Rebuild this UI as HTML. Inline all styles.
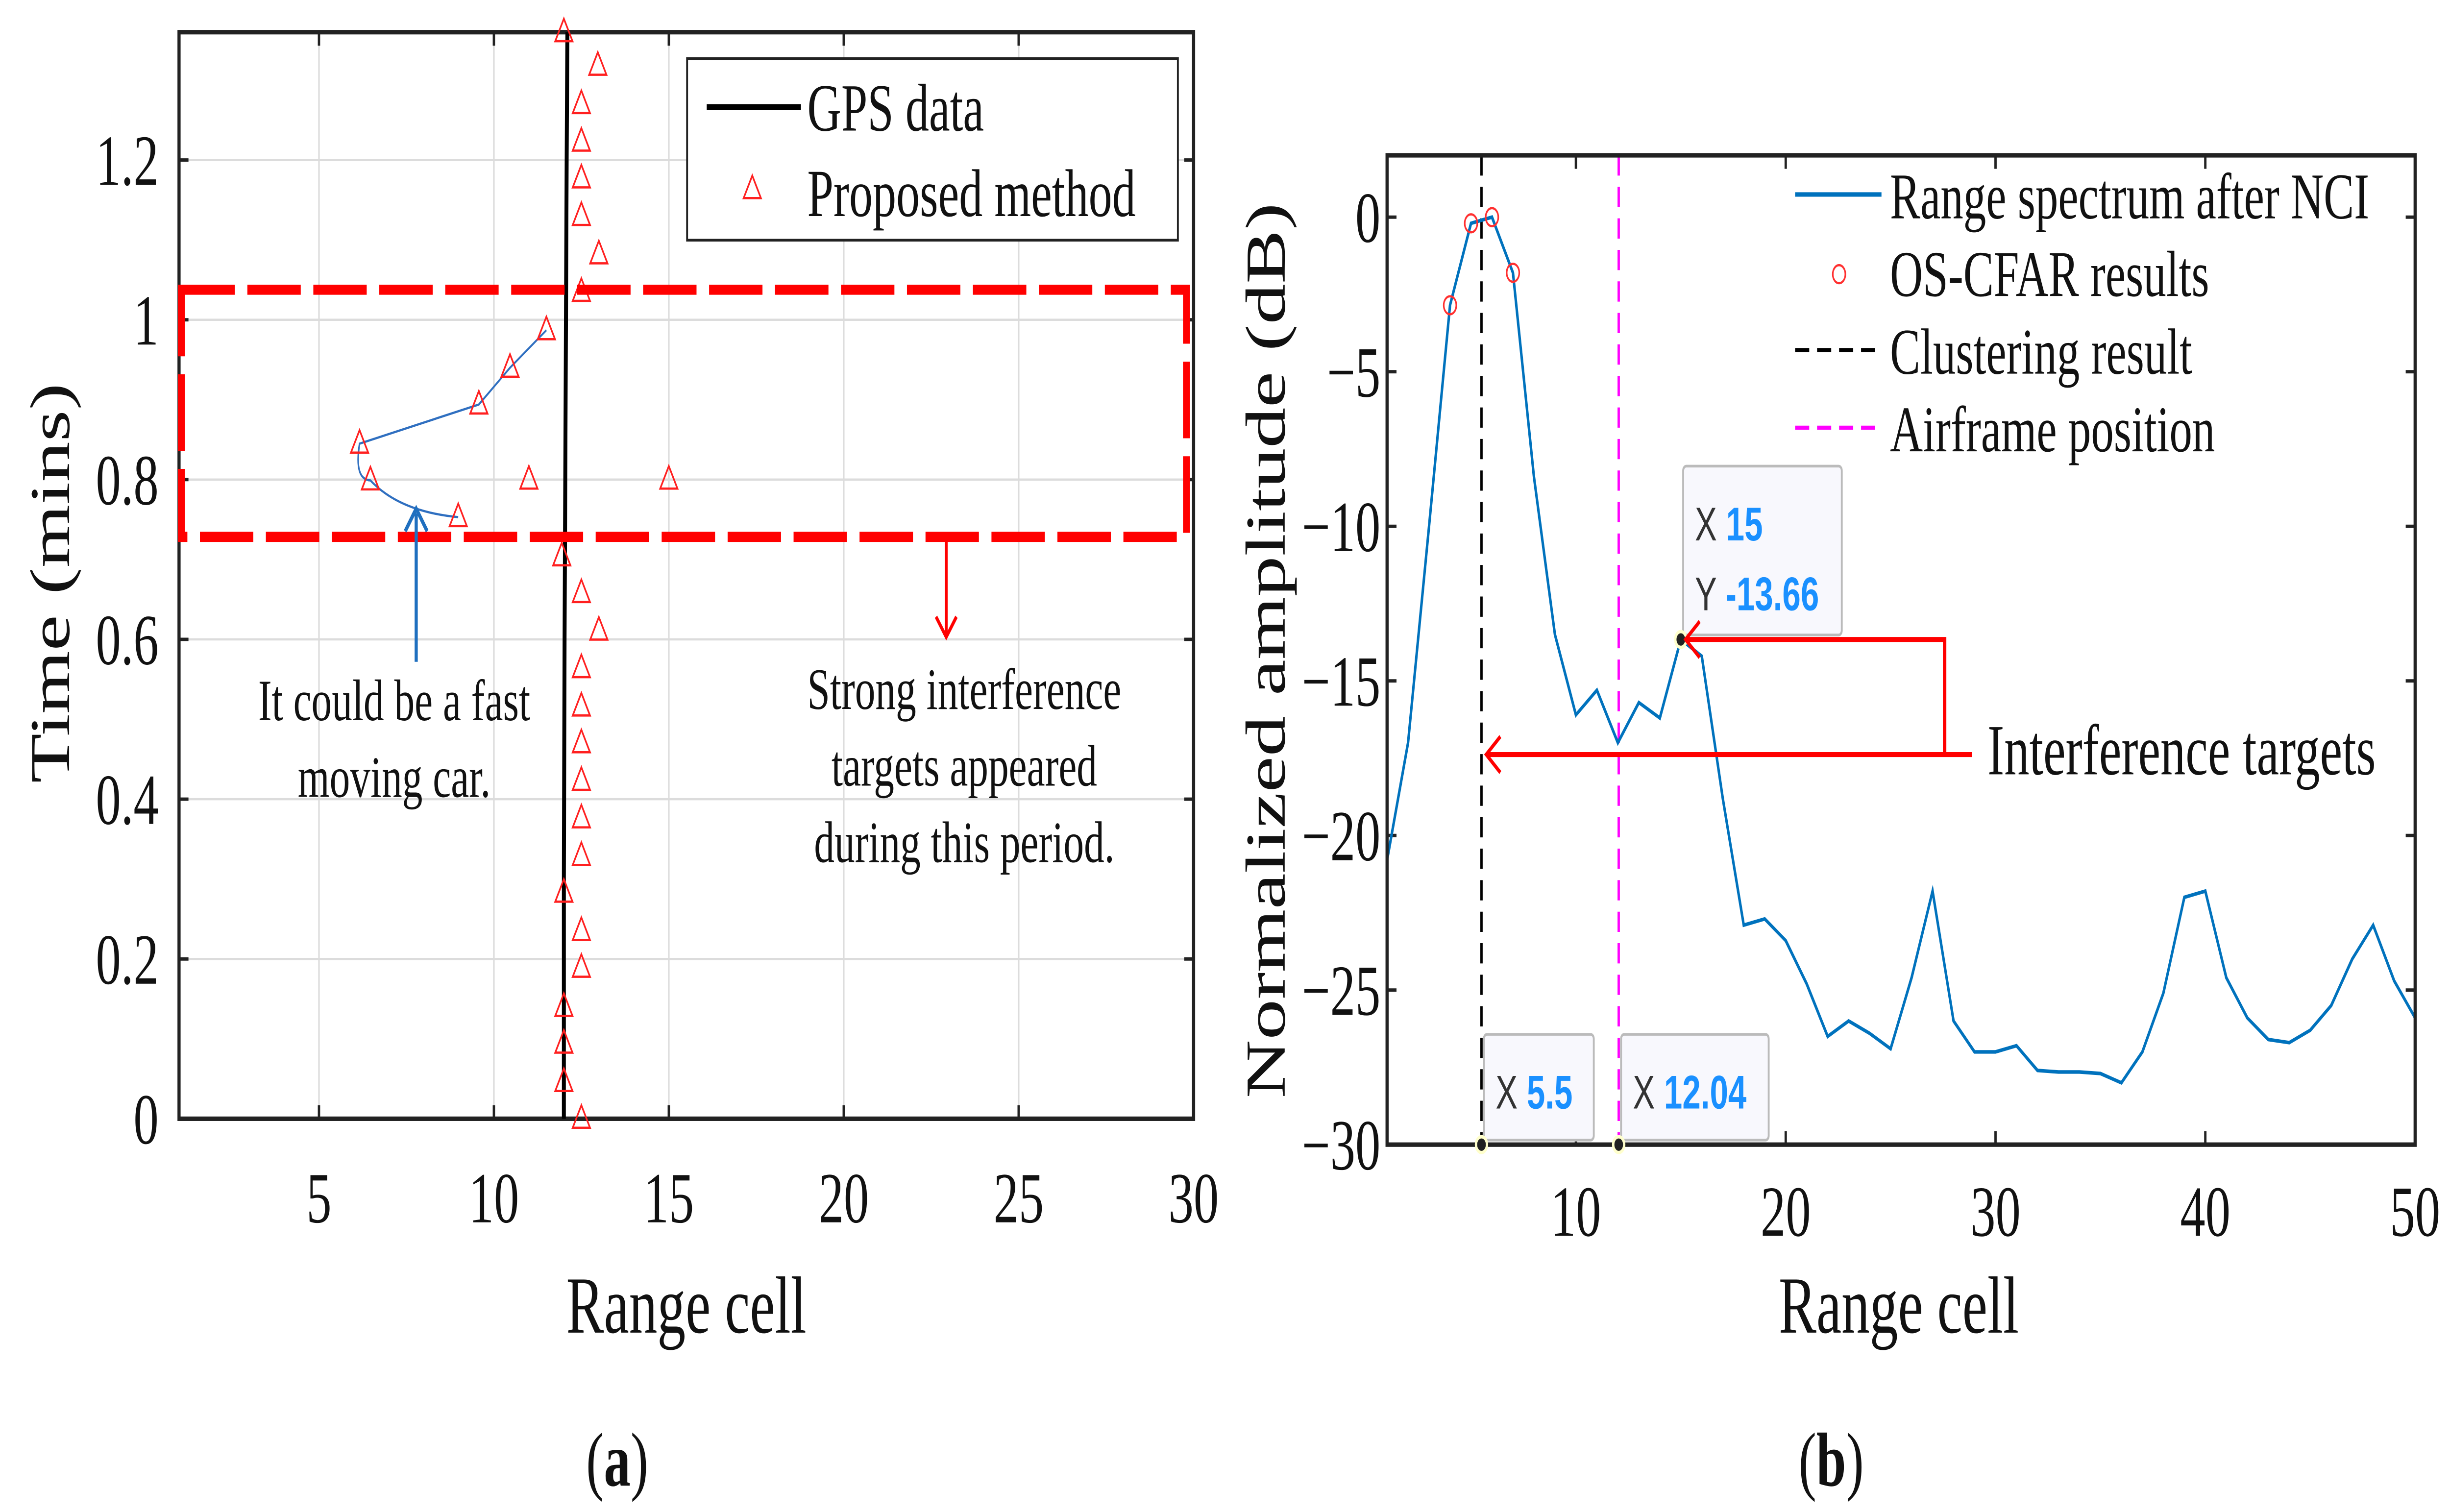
<!DOCTYPE html>
<html><head><meta charset="utf-8">
<style>
html,body{margin:0;padding:0;background:#fff;width:100%;height:100%;overflow:hidden;}
svg{display:block;width:100vw;height:100vh;position:absolute;left:0;top:0;}
text{font-family:"Liberation Serif",serif;fill:#111;}
.tip{font-family:"Liberation Sans",sans-serif;}
</style></head>
<body>
<svg id="fig" viewBox="0 0 1560 671.7" preserveAspectRatio="none" xmlns="http://www.w3.org/2000/svg">
<g id="pa"></g>
<g id="pb"></g>
</svg>
<script>
// ---------- Panel (a) data ----------
const aXTicks = [5, 10, 15, 20, 25, 30];
const aYTicks = [0, 0.2, 0.4, 0.6, 0.8, 1, 1.2];
const aYTickLabels = ["0", "0.2", "0.4", "0.6", "0.8", "1", "1.2"];
const gpsX = [12.0, 12.0, 12.02, 12.05, 12.08, 12.1];
const gpsT = [0, 0.3, 0.6, 0.9, 1.2, 1.36];
const propX = [12, 12.97, 12.5, 12.5, 12.5, 12.5, 13, 12.5, 11.5, 10.46, 9.57, 6.16, 6.47, 11, 15, 8.98, 11.94, 12.5, 13, 12.5, 12.5, 12.5, 12.5, 12.5, 12.5, 12, 12.5, 12.5, 12, 12, 12, 12.5];
const propT = [1.36, 1.318, 1.27, 1.223, 1.177, 1.13, 1.082, 1.035, 0.987, 0.94, 0.894, 0.845, 0.799, 0.8, 0.8, 0.753, 0.704, 0.658, 0.611, 0.564, 0.516, 0.47, 0.423, 0.376, 0.329, 0.283, 0.235, 0.189, 0.14, 0.094, 0.046, 0];
const carX = [11.5, 10.46, 9.57, 6.16];
const carT = [0.987, 0.94, 0.894, 0.845];

// ---------- Panel (b) data ----------
const bXTicks = [10, 20, 30, 40, 50];
const bYTicks = [0, -5, -10, -15, -20, -25, -30];
const bYTickLabels = ["0", "\u22125", "\u221210", "\u221215", "\u221220", "\u221225", "\u221230"];
const specVals = [-20.8, -17.0, -10.0, -2.85, -0.2, 0, -1.8, -8.4, -13.5, -16.1, -15.3, -17.0, -15.7, -16.2, -13.66, -14.2, -18.8, -22.9, -22.7, -23.4, -24.8, -26.5, -26.0, -26.4, -26.9, -24.6, -21.8, -26.0, -27.0, -27.0, -26.8, -27.6, -27.65, -27.65, -27.7, -28.0, -27.0, -25.1, -22.0, -21.8, -24.6, -25.9, -26.6, -26.7, -26.3, -25.5, -24.0, -22.9, -24.7, -25.9];
const cfarX = [4, 5, 6, 7];
const cfarY = [-2.85, -0.2, 0, -1.8];
const clusterX = 5.5;
const airframeX = 12.04;
const tipX = 15;
const tipY = -13.66;

const NS = "http://www.w3.org/2000/svg";
function mk(parent, tag, attrs, txt) {
  const e = document.createElementNS(NS, tag);
  for (const k in attrs) e.setAttribute(k, attrs[k]);
  if (txt !== undefined) e.textContent = txt;
  parent.appendChild(e);
  return e;
}

// ===== Panel A =====
(function () {
  const g = document.getElementById('pa');
  const L = 114, R = 760, T = 14.3, B = 497;
  const xa = v => L + (v - 1) / 29 * (R - L);
  const ya = v => B - v / 1.36 * (B - T);
  aXTicks.forEach(v => {
    const l = mk(g, 'line', {x1: xa(v), x2: xa(v), y1: T, y2: B, stroke: '#dcdcdc', 'stroke-width': 1});
    
    
  });
  aYTicks.forEach(v => {
    const l = mk(g, 'line', {x1: L, x2: R, y1: ya(v), y2: ya(v), stroke: '#dcdcdc', 'stroke-width': 1});
    
    
  });
  aXTicks.forEach(v => {
    mk(g, 'line', {x1: xa(v), x2: xa(v), y1: B, y2: B - 6, stroke: '#222', 'stroke-width': 1.5});
    mk(g, 'line', {x1: xa(v), x2: xa(v), y1: T, y2: T + 6, stroke: '#222', 'stroke-width': 1.5});
    const t = mk(g, 'text', {x: xa(v), y: 543, 'text-anchor': 'middle', 'font-size': 32}, String(v));
    
    
  });
  aYTicks.forEach((v, i) => {
    mk(g, 'line', {x1: L, x2: L + 6, y1: ya(v), y2: ya(v), stroke: '#222', 'stroke-width': 1.5});
    mk(g, 'line', {x1: R, x2: R - 6, y1: ya(v), y2: ya(v), stroke: '#222', 'stroke-width': 1.5});
    const t = mk(g, 'text', {x: 101, y: ya(v) + 11, 'text-anchor': 'end', 'font-size': 32}, aYTickLabels[i]);
    
    
  });
  const box = mk(g, 'rect', {x: L, y: T, width: R - L, height: B - T, fill: 'none', stroke: '#222', 'stroke-width': 2});
  
  
  const gps = mk(g, 'polyline', {points: gpsX.map((x, i) => xa(x) + ',' + ya(gpsT[i])).join(' '), fill: 'none', stroke: '#000', 'stroke-width': 2.5});
  
  
  let d = carX.map((x, i) => (i ? 'L' : 'M') + xa(x) + ' ' + ya(carT[i])).join(' ');
  d += ' Q ' + xa(6.0) + ' ' + ya(0.8) + ' ' + xa(6.47) + ' ' + ya(0.799);
  d += ' Q ' + xa(7.3) + ' ' + ya(0.76) + ' ' + xa(8.98) + ' ' + ya(0.753);
  const car = mk(g, 'path', {d: d, fill: 'none', stroke: '#2f6fc0', 'stroke-width': 1});
  
  
  propX.forEach((x, i) => {
    const cx = xa(x), cy = ya(propT[i]);
    const p = mk(g, 'polygon', {points: `${cx},${cy - 6} ${cx - 5.5},${cy + 4} ${cx + 5.5},${cy + 4}`, fill: 'none', stroke: '#ff2020', 'stroke-width': 1});
    
    
  });
  const rr = mk(g, 'rect', {x: 115.5, y: 128.7, width: 640, height: 109.8, fill: 'none', stroke: '#ff0000', 'stroke-width': 4.5, 'stroke-dasharray': '34 8'});
  
  
  mk(g, 'line', {x1: 265, y1: 294, x2: 265, y2: 228, stroke: '#1f6fbf', 'stroke-width': 2});
  mk(g, 'polyline', {points: '258,236 265,226 272,236', fill: 'none', stroke: '#1f6fbf', 'stroke-width': 2});
  mk(g, 'line', {x1: 602.5, y1: 240, x2: 602.5, y2: 282, stroke: '#ff0000', 'stroke-width': 1.8});
  mk(g, 'polyline', {points: '596,274 602.5,283 609,274', fill: 'none', stroke: '#ff0000', 'stroke-width': 1.8});
  const a1 = mk(g, 'text', {x: 251, y: 320, 'text-anchor': 'middle', 'font-size': 26}, 'It could be a fast');
   
  mk(g, 'text', {x: 251, y: 354, 'text-anchor': 'middle', 'font-size': 26}, 'moving car.');
  const a2 = mk(g, 'text', {x: 614, y: 315, 'text-anchor': 'middle', 'font-size': 26}, 'Strong interference');
   
  mk(g, 'text', {x: 614, y: 349, 'text-anchor': 'middle', 'font-size': 26}, 'targets appeared');
  mk(g, 'text', {x: 614, y: 383, 'text-anchor': 'middle', 'font-size': 26}, 'during this period.');
  const lg = mk(g, 'g', {});
   
  mk(lg, 'rect', {x: 437.5, y: 26, width: 312.5, height: 80.7, fill: '#fff', stroke: '#222', 'stroke-width': 1.2});
  mk(lg, 'line', {x1: 450, x2: 510, y1: 47.5, y2: 47.5, stroke: '#000', 'stroke-width': 2.5});
  mk(lg, 'text', {x: 514, y: 58, 'font-size': 30}, 'GPS data');
  mk(lg, 'polygon', {points: '479,78 473.5,88 484.5,88', fill: 'none', stroke: '#ff2020', 'stroke-width': 1});
  mk(lg, 'text', {x: 514, y: 96, 'font-size': 30}, 'Proposed method');
  const xt = mk(g, 'text', {x: 437, y: 592, 'text-anchor': 'middle', 'font-size': 36}, 'Range cell');
   
  const yt = mk(g, 'text', {x: 0, y: 0, 'text-anchor': 'middle', 'font-size': 36, transform: 'translate(44,259) rotate(-90)'}, 'Time (mins)');
   
  const cap = mk(g, 'text', {x: 393, y: 660, 'text-anchor': 'middle', 'font-size': 34}, '');
  cap.innerHTML = '(<tspan font-weight="bold">a</tspan>)';
   
})();

// ===== Panel B =====
(function () {
  const g = document.getElementById('pb');
  const L = 883.2, R = 1537.8, T = 69, B = 508.5;
  const xb = v => L + (v - 1) / 49 * (R - L);
  const yb = v => B - (v + 30) / 32 * (B - T);
  bXTicks.forEach(v => {
    mk(g, 'line', {x1: xb(v), x2: xb(v), y1: B, y2: B - 6, stroke: '#222', 'stroke-width': 1.5});
    mk(g, 'line', {x1: xb(v), x2: xb(v), y1: T, y2: T + 6, stroke: '#222', 'stroke-width': 1.5});
    const t = mk(g, 'text', {x: xb(v), y: 549, 'text-anchor': 'middle', 'font-size': 32}, String(v));
    
    
  });
  bYTicks.forEach((v, i) => {
    mk(g, 'line', {x1: L, x2: L + 6, y1: yb(v), y2: yb(v), stroke: '#222', 'stroke-width': 1.5});
    mk(g, 'line', {x1: R, x2: R - 6, y1: yb(v), y2: yb(v), stroke: '#222', 'stroke-width': 1.5});
    const t = mk(g, 'text', {x: 879, y: yb(v) + 11, 'text-anchor': 'end', 'font-size': 32}, bYTickLabels[i]);
    
    
  });
  const cl = mk(g, 'line', {x1: xb(clusterX), x2: xb(clusterX), y1: T, y2: B, stroke: '#000', 'stroke-width': 1.5, 'stroke-dasharray': '9 5'});
   
  const af = mk(g, 'line', {x1: xb(airframeX), x2: xb(airframeX), y1: T, y2: B, stroke: '#ff00ff', 'stroke-width': 1.5, 'stroke-dasharray': '9 5'});
   
  const sp = mk(g, 'polyline', {points: specVals.map((v, i) => xb(i + 1) + ',' + yb(v)).join(' '), fill: 'none', stroke: '#0072BD', 'stroke-width': 1.6});
   
  cfarX.forEach((x, i) => {
    const c = mk(g, 'circle', {cx: xb(x), cy: yb(cfarY[i]), r: 4, fill: 'none', stroke: '#ff3030', 'stroke-width': 1});
     
  });
  const box = mk(g, 'rect', {x: L, y: T, width: R - L, height: B - T, fill: 'none', stroke: '#222', 'stroke-width': 2});
   
  function tip(x, y, lines, w, h, name) {
    const px = xb(x), py = yb(y);
    const tg = mk(g, 'g', {});
     
    mk(tg, 'rect', {x: px + 1.5, y: py - h - 2, width: w, height: h, fill: '#f8f8fd', stroke: '#bbb', 'stroke-width': 1.2, rx: 2});
    lines.forEach((ln, i) => {
      const t = mk(tg, 'text', {x: px + 9, y: py - h - 2 + (lines.length === 1 ? 33 : 33 + i * 31), 'font-size': 21, class: 'tip'}, '');
      t.innerHTML = '<tspan fill="#333">' + ln[0] + ' </tspan><tspan fill="#1a90ff" font-weight="bold">' + ln[1] + '</tspan>';
    });
    mk(tg, 'circle', {cx: px, cy: py, r: 3.5, fill: '#222', stroke: '#ffffcc', 'stroke-width': 1.5});
  }
  tip(clusterX, -30, [['X', String(clusterX)]], 70, 47, 'datatip-clustering');
  tip(airframeX, -30, [['X', String(airframeX)]], 94, 47, 'datatip-airframe');
  tip(tipX, tipY, [['X', String(tipX)], ['Y', String(tipY)]], 101, 75, 'datatip-interference');
  const ax = mk(g, 'g', {});
   
  const y1 = yb(tipY), y2 = 335.2, xr = 1238.2;
  mk(ax, 'polyline', {points: `${xb(tipX) + 3},${y1} ${xr},${y1} ${xr},${y2}`, fill: 'none', stroke: '#ff0000', 'stroke-width': 2.2});
  mk(ax, 'polyline', {points: `${xb(tipX) + 12},${y1 - 8} ${xb(tipX) + 3},${y1} ${xb(tipX) + 12},${y1 + 8}`, fill: 'none', stroke: '#ff0000', 'stroke-width': 1.8});
  mk(ax, 'line', {x1: xb(clusterX) + 3, x2: 1255.5, y1: y2, y2: y2, stroke: '#ff0000', 'stroke-width': 2.2});
  mk(ax, 'polyline', {points: `${xb(clusterX) + 12},${y2 - 8} ${xb(clusterX) + 3},${y2} ${xb(clusterX) + 12},${y2 + 8}`, fill: 'none', stroke: '#ff0000', 'stroke-width': 1.8});
  const it = mk(g, 'text', {x: 1265.5, y: 344, 'font-size': 32}, 'Interference targets');
   
  const lg = mk(g, 'g', {});
   
  mk(lg, 'line', {x1: 1143, x2: 1198, y1: 86.4, y2: 86.4, stroke: '#0072BD', 'stroke-width': 2});
  mk(lg, 'text', {x: 1203.4, y: 97, 'font-size': 29}, 'Range spectrum after NCI');
  mk(lg, 'circle', {cx: 1171, cy: 121.8, r: 4, fill: 'none', stroke: '#ff3030', 'stroke-width': 1});
  mk(lg, 'text', {x: 1203.4, y: 131.5, 'font-size': 29}, 'OS-CFAR results');
  mk(lg, 'line', {x1: 1143, x2: 1198, y1: 155.5, y2: 155.5, stroke: '#000', 'stroke-width': 1.8, 'stroke-dasharray': '9 5'});
  mk(lg, 'text', {x: 1203.4, y: 166, 'font-size': 29}, 'Clustering result');
  mk(lg, 'line', {x1: 1143, x2: 1198, y1: 190, y2: 190, stroke: '#ff00ff', 'stroke-width': 1.8, 'stroke-dasharray': '9 5'});
  mk(lg, 'text', {x: 1203.4, y: 200.5, 'font-size': 29}, 'Airframe position');
  const xt = mk(g, 'text', {x: 1209, y: 592, 'text-anchor': 'middle', 'font-size': 36}, 'Range cell');
   
  const yt = mk(g, 'text', {x: 0, y: 0, 'text-anchor': 'middle', 'font-size': 36, transform: 'translate(818,289) rotate(-90)'}, 'Normalized amplitude (dB)');
   
  const cap = mk(g, 'text', {x: 1166, y: 660, 'text-anchor': 'middle', 'font-size': 34}, '');
  cap.innerHTML = '(<tspan font-weight="bold">b</tspan>)';
   
})();
</script>
</body></html>
